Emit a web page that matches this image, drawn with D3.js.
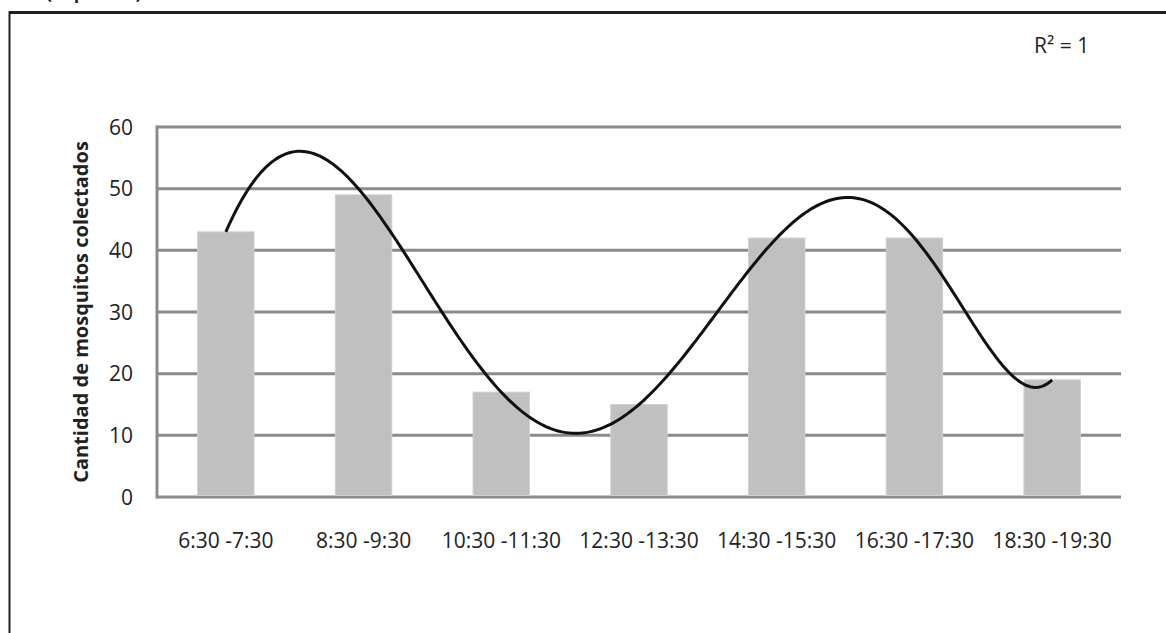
<!DOCTYPE html>
<html>
<head>
<meta charset="utf-8">
<script src="https://cdn.jsdelivr.net/npm/d3@7"></script>
<style>
  body { margin: 0; background: #fff; }
  svg { display: block; font-family: "Open Sans", sans-serif; }
</style>
</head>
<body>
<svg id="chart" width="1166" height="633"></svg>
<script>
// data
var categories = ['6:30 -7:30', '8:30 -9:30', '10:30 -11:30', '12:30 -13:30',
                  '14:30 -15:30', '16:30 -17:30', '18:30 -19:30'];
var mosquitos = [43, 49, 17, 15, 42, 42, 19];
var yTicks = [0, 10, 20, 30, 40, 50, 60];
var rSquared = 'R\u00B2 = 1';

var svg = d3.select('#chart');
var plot = {l: 157, r: 1121, t: 127, b: 497};

var x = d3.scaleBand()
    .domain(categories)
    .range([plot.l, plot.r])
    .paddingInner(0.59)
    .paddingOuter(0.295);
var y = d3.scaleLinear().domain([0, 60]).range([plot.b, plot.t]);

// frame of the figure, cut off on right and bottom
svg.append('line')
    .attr('x1', 9).attr('x2', 1166).attr('y1', 12.5).attr('y2', 12.5)
    .style('stroke', '#231f20').style('stroke-width', 3);
svg.append('line')
    .attr('x1', 9.5).attr('x2', 9.5).attr('y1', 11).attr('y2', 633)
    .style('stroke', '#231f20').style('stroke-width', 2);

// title above the frame, mostly clipped
svg.append('text')
    .attr('x', 46).attr('y', -1)
    .text('(Supuesto)')
    .style('font-size', '18px')
    .style('font-weight', 'bold')
    .style('fill', '#231f20');

// grid
svg.append('g').selectAll('line')
    .data(yTicks)
    .enter()
    .append('line')
    .attr('x1', plot.l).attr('x2', plot.r)
    .attr('y1', function (d) { return y(d); })
    .attr('y2', function (d) { return y(d); })
    .style('stroke', '#8a8a8a').style('stroke-width', 3);

svg.append('line')
    .attr('x1', plot.l).attr('x2', plot.l)
    .attr('y1', plot.t - 1.5).attr('y2', plot.b + 1.5)
    .style('stroke', '#8a8a8a').style('stroke-width', 3);

// bars
svg.append('g').selectAll('rect')
    .data(mosquitos)
    .enter()
    .append('rect')
    .attr('x', function (d, i) { return x(categories[i]); })
    .attr('width', x.bandwidth())
    .attr('y', function (d) { return y(d); })
    .attr('height', function (d) { return y(0) - y(d) - 1.5; })
    .style('fill', '#c0c0c0')
    .style('stroke', '#cfcfcf')
    .style('stroke-width', 1);

// 6th order polynomial trend line (passes through every point, R2 = 1)
function poly(t) {
    var s = 0;
    for (var i = 0; i < mosquitos.length; i++) {
        var p = mosquitos[i];
        for (var j = 0; j < mosquitos.length; j++) {
            if (j != i) p *= (t - (j + 1)) / ((i + 1) - (j + 1));
        }
        s += p;
    }
    return s;
}
var idx = d3.scaleLinear().domain([1, 7])
    .range([x(categories[0]) + x.bandwidth() / 2, x(categories[6]) + x.bandwidth() / 2]);
var ts = d3.range(1, 7.0001, 0.02);
svg.append('path')
    .datum(ts)
    .attr('d', d3.line()
        .x(function (t) { return idx(t); })
        .y(function (t) { return y(poly(t)); }))
    .style('fill', 'none')
    .style('stroke', '#111')
    .style('stroke-width', 3)
    .style('stroke-linejoin', 'round');

// y tick labels
svg.append('g').selectAll('text')
    .data(yTicks)
    .enter()
    .append('text')
    .attr('x', 133)
    .attr('y', function (d) { return y(d); })
    .attr('dy', '0.36em')
    .style('text-anchor', 'end')
    .style('font-size', '21px')
    .style('fill', '#222')
    .text(function (d) { return d; });

// x labels
svg.append('g').selectAll('text')
    .data(categories)
    .enter()
    .append('text')
    .attr('x', function (d) { return x(d) + x.bandwidth() / 2; })
    .attr('y', 548)
    .style('text-anchor', 'middle')
    .style('font-size', '21px')
    .style('fill', '#222')
    .text(function (d) { return d; });

// y title
svg.append('text')
    .attr('transform', 'translate(' + [88, (plot.t + plot.b) / 2] + ') rotate(-90)')
    .style('text-anchor', 'middle')
    .style('font-size', '20px')
    .style('font-weight', 'bold')
    .style('fill', '#222')
    .text('Cantidad de mosquitos colectados');

svg.append('text')
    .attr('x', 1034).attr('y', 53)
    .style('font-size', '21px')
    .style('fill', '#222')
    .text(rSquared);
</script>
</body>
</html>
